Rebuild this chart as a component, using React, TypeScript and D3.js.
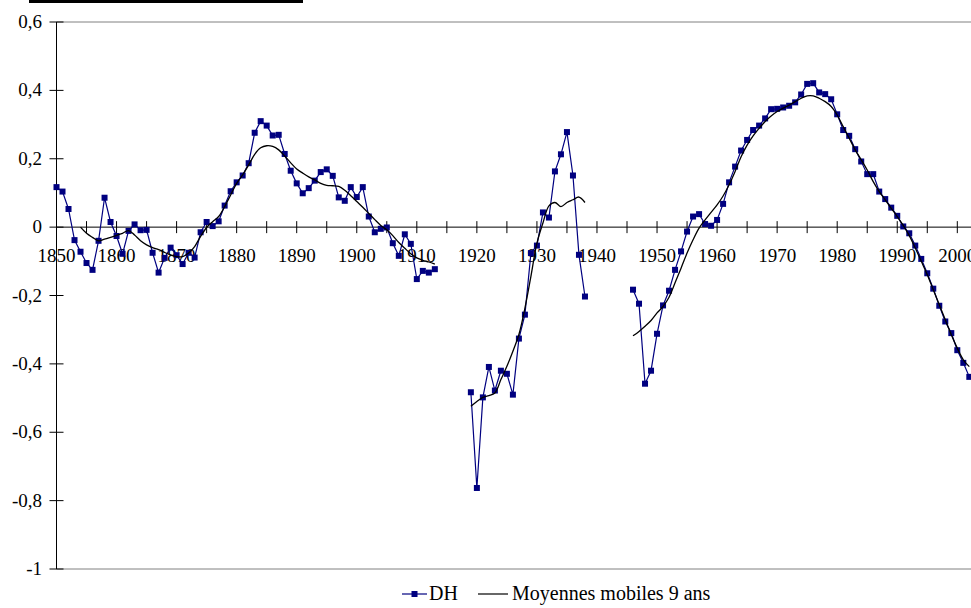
import React from "react";
import * as d3 from "d3";

// ---- Data ----
const dh1Start = 1850;
const dh1Values = [
  0.117, 0.104, 0.053, -0.038, -0.072, -0.105, -0.125, -0.04, 0.086, 0.015,
  -0.026, -0.078, -0.011, 0.008, -0.009, -0.008, -0.075, -0.133, -0.09, -0.06,
  -0.082, -0.108, -0.075, -0.089, -0.015, 0.015, 0.003, 0.017, 0.063, 0.105,
  0.131, 0.151, 0.187, 0.276, 0.31, 0.297, 0.268, 0.27, 0.214, 0.165,
  0.128, 0.099, 0.114, 0.136, 0.161, 0.169, 0.15, 0.087, 0.077, 0.117,
  0.088, 0.117, 0.031, -0.015, -0.005, -0.001, -0.047, -0.084, -0.021, -0.049,
  -0.152, -0.128, -0.133, -0.123,
];
const dh2Start = 1919;
const dh2Values = [
  -0.483, -0.763, -0.498, -0.409, -0.478, -0.42, -0.429, -0.49, -0.326, -0.256,
  -0.076, -0.054, 0.043, 0.028, 0.163, 0.213, 0.278, 0.151, -0.081, -0.203,
];
const dh3Start = 1946;
const dh3Values = [
  -0.183, -0.224, -0.458, -0.42, -0.312, -0.229, -0.186, -0.125, -0.071, -0.013,
  0.031, 0.038, 0.009, 0.004, 0.021, 0.068, 0.131, 0.177, 0.224, 0.255,
  0.284, 0.297, 0.318, 0.345, 0.346, 0.35, 0.355, 0.365, 0.388, 0.419,
  0.421, 0.394, 0.389, 0.374, 0.33, 0.284, 0.267, 0.228, 0.192, 0.155,
  0.155, 0.104, 0.082, 0.057, 0.033, 0.002, -0.018, -0.054, -0.093, -0.135,
  -0.18, -0.23, -0.276, -0.31, -0.36, -0.397, -0.438,
];

const ma1Start = 1854;
const ma1Values = [
  0.0, -0.018, -0.03, -0.04, -0.035, -0.03, -0.024, -0.018, -0.01, -0.023,
  -0.04, -0.052, -0.06, -0.066, -0.074, -0.081, -0.086, -0.086, -0.076, -0.057,
  -0.027, -0.001, 0.016, 0.031, 0.06, 0.094, 0.128, 0.153, 0.182, 0.213,
  0.232, 0.238, 0.236, 0.226, 0.208, 0.188, 0.17, 0.158, 0.147, 0.138,
  0.128, 0.122, 0.121, 0.119, 0.108, 0.092, 0.075, 0.058, 0.04, 0.022,
  0.005, -0.008, -0.025, -0.045, -0.062, -0.078, -0.09, -0.097, -0.102, -0.108,
];
const ma2Start = 1919;
const ma2Values = [
  -0.524, -0.51, -0.498, -0.493, -0.485, -0.446, -0.407, -0.363, -0.314, -0.237,
  -0.144, -0.047, 0.012, 0.062, 0.072, 0.06, 0.072, 0.08, 0.088, 0.072,
];
const ma3Start = 1946;
const ma3Values = [
  -0.318, -0.305, -0.29, -0.273, -0.251, -0.232, -0.205, -0.163, -0.12, -0.076,
  -0.037, -0.003, 0.021, 0.043, 0.065, 0.091, 0.124, 0.163, 0.206, 0.24,
  0.267, 0.289, 0.309, 0.325, 0.338, 0.348, 0.357, 0.367, 0.377, 0.384,
  0.384, 0.377, 0.367, 0.353, 0.328, 0.294, 0.26, 0.226, 0.197, 0.167,
  0.133, 0.104, 0.08, 0.055, 0.031, 0.005, -0.025, -0.061, -0.1, -0.139,
  -0.183, -0.227, -0.271, -0.315, -0.354, -0.388, -0.408,
];

const yTicks = [0.6, 0.4, 0.2, 0, -0.2, -0.4, -0.6, -0.8, -1];
const xLabelYears = [1850, 1860, 1870, 1880, 1890, 1900, 1910, 1920, 1930, 1940, 1950, 1960, 1970, 1980, 1990, 2000];
const xTickYears = d3.range(1855, 2006, 5);
const seriesNames = ["DH", "Moyennes mobiles 9 ans"];

type Pt = [number, number];
const toPts = (start: number, vals: number[]): Pt[] => vals.map((v, i) => [start + i, v]);

const W = 971;
const H = 608;
const FONT = '"Liberation Serif", "Times New Roman", serif';

export default function App() {
  const x = d3.scaleLinear().domain([1850, 2000]).range([56.5, 957.3]);
  const y = d3.scaleLinear().domain([-1, 0.6]).range([569, 22]);
  const fmt = (v: number) => (v === 0 ? "0" : String(v).replace(".", ","));

  const dhSegs = [toPts(dh1Start, dh1Values), toPts(dh2Start, dh2Values), toPts(dh3Start, dh3Values)];
  const maSegs = [toPts(ma1Start, ma1Values), toPts(ma2Start, ma2Values), toPts(ma3Start, ma3Values)];

  const lin = d3.line<Pt>().x((d) => x(d[0])).y((d) => y(d[1]));
  const smooth = d3
    .line<Pt>()
    .x((d) => x(d[0]))
    .y((d) => y(d[1]))
    .curve(d3.curveCatmullRom.alpha(0.5));

  const navy = "#000080";
  const y0 = y(0);
  const axisX = x(1850);
  const ts = { fontFamily: FONT };

  return (
    <svg width={W} height={H} style={{ position: "absolute", left: 0, top: 0, background: "#fff" }}>
      <rect x={0} y={0} width={W} height={H} fill="#fff" />
      {/* title underline remnant */}
      <line x1={29} x2={303} y1={1.5} y2={1.5} stroke="#000" strokeWidth={3} />
      {/* plot area border */}
      <line x1={axisX} x2={W} y1={y(0.6)} y2={y(0.6)} stroke="#808080" strokeWidth={1} />
      <line x1={axisX} x2={W} y1={y(-1)} y2={y(-1)} stroke="#808080" strokeWidth={1} />
      {/* y axis */}
      <line x1={axisX} x2={axisX} y1={y(0.6)} y2={y(-1)} stroke="#000" strokeWidth={1} />
      {yTicks.map((t) => (
        <g key={t}>
          <line x1={axisX - 7} x2={axisX + 7} y1={y(t)} y2={y(t)} stroke="#000" strokeWidth={1} />
          <text x={42} y={y(t) + 6} textAnchor="end" fontSize={19} fill="#000" style={ts}>
            {fmt(t)}
          </text>
        </g>
      ))}
      {/* x axis at zero */}
      <line x1={axisX} x2={W} y1={y0} y2={y0} stroke="#000" strokeWidth={1} />
      {xTickYears.map((yr) => (
        <line key={yr} x1={x(yr)} x2={x(yr)} y1={y0 - 6} y2={y0 + 6} stroke="#000" strokeWidth={1} />
      ))}
      {xLabelYears.map((yr) => (
        <text key={yr} x={x(yr)} y={y0 + 35} textAnchor="middle" fontSize={19} fill="#000" style={ts}>
          {yr}
        </text>
      ))}
      {/* DH series */}
      {dhSegs.map((s, i) => (
        <path key={"dh" + i} d={lin(s) || ""} fill="none" stroke={navy} strokeWidth={1.2} />
      ))}
      {dhSegs.map((s, i) =>
        s.map((p) => (
          <rect key={"m" + i + "-" + p[0]} x={x(p[0]) - 3} y={y(p[1]) - 3} width={6} height={6} fill={navy} />
        ))
      )}
      {/* Moving average */}
      {maSegs.map((s, i) => (
        <path key={"ma" + i} d={smooth(s) || ""} fill="none" stroke="#000" strokeWidth={1.3} />
      ))}
      {/* legend */}
      <g>
        <line x1={402} x2={427} y1={594} y2={594} stroke={navy} strokeWidth={1.2} />
        <rect x={411.5} y={591} width={6} height={6} fill={navy} />
        <text x={429} y={600} fontSize={20} fill="#000" style={ts}>
          {seriesNames[0]}
        </text>
        <line x1={478} x2={508} y1={594} y2={594} stroke="#000" strokeWidth={1.2} />
        <text x={512} y={600} fontSize={20} fill="#000" style={ts}>
          {seriesNames[1]}
        </text>
      </g>
    </svg>
  );
}
